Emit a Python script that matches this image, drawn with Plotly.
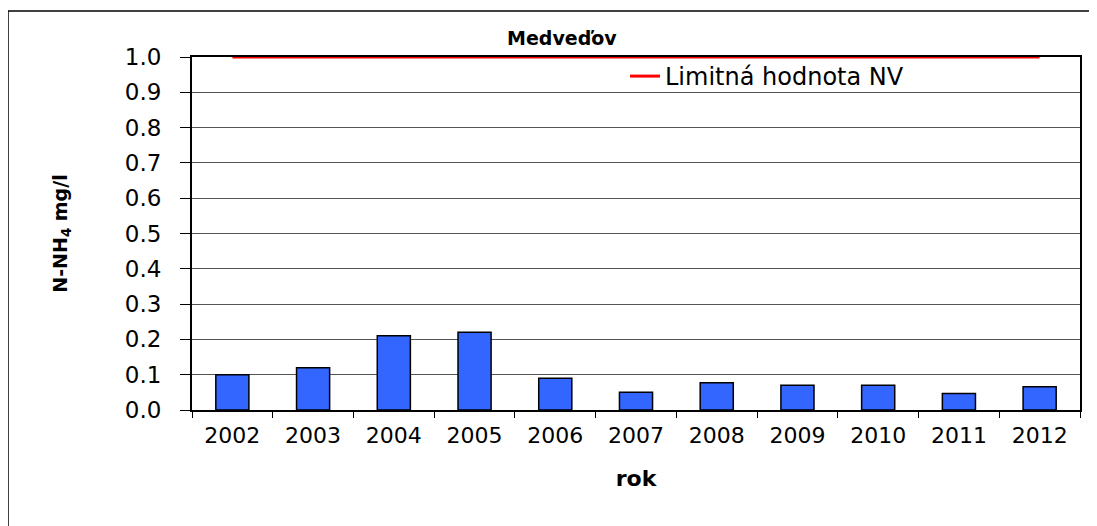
import plotly.graph_objects as go

years = ["2002", "2003", "2004", "2005", "2006", "2007", "2008", "2009", "2010", "2011", "2012"]
nh4_values = [0.10, 0.12, 0.21, 0.22, 0.09, 0.05, 0.077, 0.07, 0.07, 0.047, 0.066]
limit_values = [1.0] * len(years)
y_ticks = [0.0, 0.1, 0.2, 0.3, 0.4, 0.5, 0.6, 0.7, 0.8, 0.9, 1.0]
y_tick_labels = ["0.0", "0.1", "0.2", "0.3", "0.4", "0.5", "0.6", "0.7", "0.8", "0.9", "1.0"]

W, H = 1097, 526
OFF = 8  # page body margin
L, R, T, B = 184, 25, 49, 124
pw, ph = W - L - R, H - T - B

def px_x(p):
    return (p - OFF - L) / pw

def px_y(p):
    return (H - B - (p - OFF)) / ph

font_family = "DejaVu Sans, Verdana, sans-serif"

fig = go.Figure()
fig.add_trace(go.Bar(
    x=years, y=nh4_values, name="N-NH4",
    marker=dict(color="#3366FF", line=dict(color="black", width=1.5)),
    showlegend=False,
))
fig.add_trace(go.Scatter(
    x=years, y=limit_values, mode="lines", name="Limitná hodnota NV",
    line=dict(color="#FF0000", width=3),
))

fig.update_layout(
    width=W, height=H,
    margin=dict(l=L, r=R, t=T, b=B),
    paper_bgcolor="white", plot_bgcolor="white",
    bargap=0.59,
    font=dict(family=font_family, size=22, color="black"),
    showlegend=True,
    legend=dict(x=px_x(625), y=px_y(54), xanchor="left", yanchor="top",
                bgcolor="rgba(0,0,0,0)", font=dict(size=24), itemwidth=30),
    xaxis=dict(
        type="category", tickson="boundaries", ticks="outside", ticklen=6,
        tickcolor="black", tickwidth=1,
        showline=True, linecolor="black", linewidth=2, mirror=True,
        showgrid=False, tickfont=dict(size=22), ticklabelstandoff=5,
        title=dict(text="<b>rok</b>", font=dict(size=22), standoff=23),
    ),
    yaxis=dict(
        range=[0, 1.0], tickvals=y_ticks, ticktext=y_tick_labels,
        ticks="outside", ticklen=10, tickcolor="black", tickwidth=1,
        showline=True, linecolor="black", linewidth=2, mirror=True,
        showgrid=True, gridcolor="#555555", gridwidth=1,
        tickfont=dict(size=23), ticklabelstandoff=14,
        title=dict(text="<b>N-NH<sub>4</sub> mg/l</b>", font=dict(size=19), standoff=52),
    ),
    annotations=[dict(
        text="<b>Medveďov</b>", xref="paper", yref="paper",
        x=px_x(562), y=px_y(38), xanchor="center", yanchor="middle",
        showarrow=False, font=dict(size=19, color="black"),
    )],
    shapes=[
        dict(type="line", xref="paper", yref="paper",
             x0=px_x(8), x1=px_x(8), y0=px_y(11), y1=px_y(560),
             line=dict(color="black", width=1.5)),
        dict(type="line", xref="paper", yref="paper",
             x0=px_x(8), x1=px_x(1120), y0=px_y(11), y1=px_y(11),
             line=dict(color="black", width=1.5)),
    ],
)

fig.write_html("out.html")
